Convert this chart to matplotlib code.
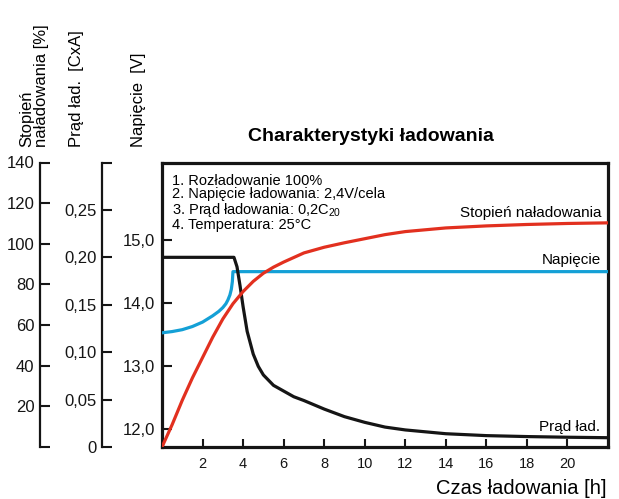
import matplotlib
matplotlib.use("Agg")
import matplotlib.pyplot as plt

plt.rcParams["font.family"] = ["Liberation Sans", "DejaVu Sans"]

# charging time [h] and read-off values
t_soc = [0, 0.5, 1, 1.5, 2, 2.5, 3, 3.5, 4, 4.5, 5, 5.5, 6, 7, 8, 9, 10, 11, 12,
         14, 16, 18, 20, 22]
soc = [0, 11, 23, 34, 44, 54, 63, 70.5, 76.5, 81.5, 85.5, 88.5, 91, 95.5, 98.3,
       100.5, 102.5, 104.5, 106, 107.8, 108.8, 109.5, 110, 110.3]

t_volt = [0, 0.5, 1, 1.5, 2, 2.5, 2.8, 3.0, 3.15, 3.25, 3.35, 3.42, 3.47, 3.5, 22]
volt = [13.53, 13.55, 13.58, 13.63, 13.7, 13.8, 13.87, 13.93, 13.99, 14.05,
        14.13, 14.22, 14.34, 14.5, 14.5]

t_curr = [0, 3.55, 3.7, 3.85, 4.0, 4.2, 4.5, 4.75, 5.0, 5.5, 6.0, 6.5, 7, 8, 9,
          10, 11, 12, 14, 16, 18, 20, 22]
curr = [0.2, 0.2, 0.19, 0.17, 0.148, 0.122, 0.098, 0.085, 0.076, 0.065, 0.059,
        0.053, 0.049, 0.040, 0.032, 0.026, 0.021, 0.018, 0.014, 0.012, 0.011,
        0.0103, 0.0098]

x_ticks = [2, 4, 6, 8, 10, 12, 14, 16, 18, 20]
volt_ticks = [12, 13, 14, 15]
volt_labels = ["12,0", "13,0", "14,0", "15,0"]
curr_ticks = [0, 0.05, 0.10, 0.15, 0.20, 0.25, 0.30]
curr_labels = ["0", "0,05", "0,10", "0,15", "0,20", "0,25", ""]
soc_ticks = [0, 20, 40, 60, 80, 100, 120, 140]
soc_labels = ["", "20", "40", "60", "80", "100", "120", "140"]

notes = ["1. Rozładowanie 100%",
         "2. Napięcie ładowania: 2,4V/cela",
         r"3. Prąd ładowania: 0,2C$_{\mathregular{20}}$",
         "4. Temperatura: 25°C"]

RED = "#e2301f"
BLUE = "#14a0d6"
BLACK = "#151515"

W, H = 619, 499


def fx(px):
    return px / W


def fy(py):
    return 1 - py / H


fig = plt.figure(figsize=(W / 100, H / 100), dpi=100)
left, right, top, bottom = 162, 608, 162.5, 447
ax = fig.add_axes([fx(left), fy(bottom), (right - left) / W, (bottom - top) / H])

# voltage on the main axes
ax.plot(t_volt, volt, color=BLUE, lw=2.3, zorder=3)
ax.set_xlim(0, 22)
ax.set_ylim(11.72, 16.23)
for s in ax.spines.values():
    s.set_linewidth(2.3)
    s.set_color(BLACK)
ax.set_xticks(x_ticks)
ax.set_xticklabels([str(v) for v in x_ticks])
ax.set_yticks(volt_ticks)
ax.set_yticklabels(volt_labels)
ax.tick_params(axis="x", direction="in", length=6, width=1.5, pad=7,
               labelsize=10.5, colors=BLACK)
ax.tick_params(axis="y", direction="in", length=7, width=1.5, pad=5,
               labelsize=12, colors=BLACK)
ax.yaxis.get_major_ticks()[2].tick1line.set_color(BLUE)

# charging current axis
ax_i = ax.twinx()
ax_i.plot(t_curr, curr, color=BLACK, lw=2.3, zorder=3)
ax_i.set_ylim(0, 0.30)

# state of charge axis
ax_s = ax.twinx()
ax_s.plot(t_soc, soc, color=RED, lw=2.3, zorder=3)
ax_s.set_ylim(0, 140)

for a, pos, ticks, labels in [(ax_i, (102 - left) / (right - left), curr_ticks, curr_labels),
                              (ax_s, (40 - left) / (right - left), soc_ticks, soc_labels)]:
    for side in ["top", "right", "bottom"]:
        a.spines[side].set_visible(False)
    a.spines["left"].set_visible(True)
    a.spines["left"].set_position(("axes", pos))
    a.spines["left"].set_linewidth(1.6)
    a.spines["left"].set_color(BLACK)
    a.yaxis.set_ticks_position("left")
    a.set_yticks(ticks)
    a.set_yticklabels(labels)
    a.tick_params(axis="y", direction="in", length=7, width=1.5, pad=4,
                  labelsize=12, colors=BLACK)
    a.set_xlim(0, 22)

# rotated axis titles
fig.text(fx(34), fy(147), "Stopień\nnaładowania [%]", rotation=90, ha="center",
         va="bottom", multialignment="left", fontsize=12, linespacing=1.0)
fig.text(fx(77), fy(147), "Prąd ład.  [CxA]", rotation=90, ha="center",
         va="bottom", fontsize=12)
fig.text(fx(138), fy(147), "Napięcie  [V]", rotation=90, ha="center",
         va="bottom", fontsize=12)

fig.text(fx(371), fy(137), "Charakterystyki ładowania", ha="center", va="center",
         fontsize=14, fontweight="bold")

fig.text(fx(172), fy(174), "\n".join(notes), ha="left", va="top",
         fontsize=10.5, linespacing=0.95)

fig.text(fx(601), fy(212.5), "Stopień naładowania", ha="right", va="center",
         fontsize=11)
fig.text(fx(601), fy(260), "Napięcie", ha="right", va="center", fontsize=11)
fig.text(fx(600), fy(426.5), "Prąd ład.", ha="right", va="center", fontsize=11)

fig.text(fx(606), fy(488), "Czas ładowania [h]", ha="right", va="center",
         fontsize=14.5)

fig.savefig("out.png", dpi=100)
